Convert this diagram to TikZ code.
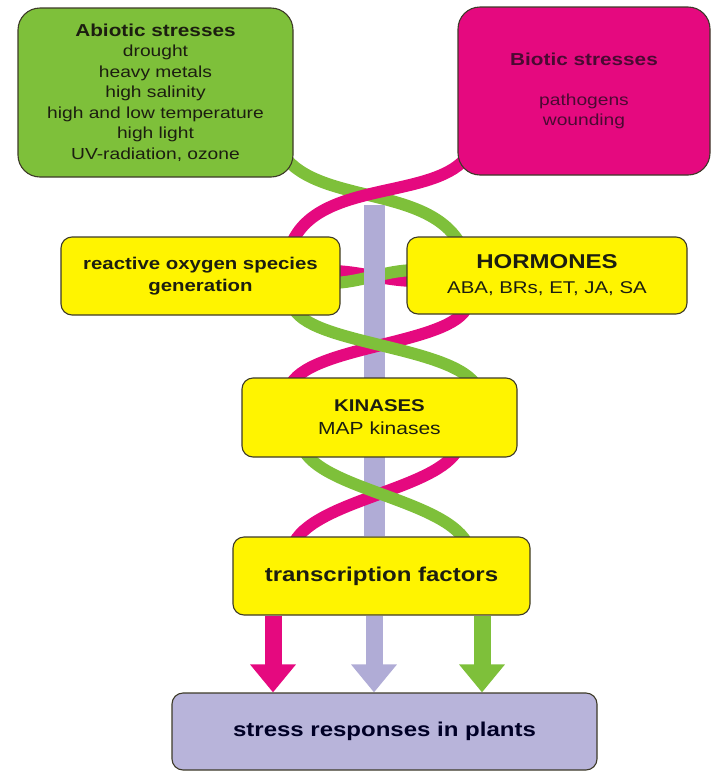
\documentclass[tikz,border=0pt]{standalone}
\usepackage{fontspec}
\setmainfont{Liberation Sans}[FakeStretch=1.2]
\usetikzlibrary{calc,arrows.meta}

\definecolor{abgreen}{HTML}{7EC03A}
\definecolor{biomag}{HTML}{E5097F}
\definecolor{boxyel}{HTML}{FFF400}
\definecolor{boxlav}{HTML}{B8B4DA}
\definecolor{barlav}{HTML}{B0ACD6}
\definecolor{rim}{HTML}{3D3A28}
\definecolor{ink}{HTML}{1C1E10}
\definecolor{bioink}{HTML}{4A0A32}

\pgfdeclarelayer{strands}
\pgfsetlayers{strands,main}

\tikzset{
  stressbox/.style={draw=rim, line width=1.1pt, rounded corners=11pt, align=center, inner sep=0pt, text=ink},
  greenstrand/.style={draw=abgreen, line width=12pt},
  magstrand/.style={draw=biomag, line width=12pt},
  midbar/.style={draw=barlav, line width=21pt},
  fatarrow/.style={line width=17pt, -{Triangle[width=44pt,length=28pt]}}
}

\begin{document}
\begin{tikzpicture}[x=1pt,y=-1pt]
     \useasboundingbox (0,0) rectangle (711,772);

     \node[stressbox, fill=abgreen, rounded corners=22pt, minimum width=275pt, minimum height=169pt,
       font=\fontsize{16}{20.5}\selectfont] (abiotic) at (155.5,92.5)
       {{\bfseries\fontsize{17.3}{20.5}\selectfont Abiotic stresses}\\ drought\\ heavy metals\\ high salinity\\
        high and low temperature\\ high light\\ UV-radiation, ozone};
     \node[stressbox, fill=biomag, text=bioink, rounded corners=22pt, minimum width=252pt, minimum height=168pt,
       font=\fontsize{16}{20.5}\selectfont] (biotic) at (584,91)
       {{\bfseries\fontsize{17.3}{20.5}\selectfont Biotic stresses}\\[19pt] pathogens\\ wounding};
     \node[stressbox, fill=boxyel, minimum width=279pt, minimum height=78pt,
       font=\bfseries\fontsize{17}{22}\selectfont] (ros) at (200.5,276)
       {reactive oxygen species\\ generation};
     \node[stressbox, fill=boxyel, minimum width=280pt, minimum height=77pt,
       font=\fontsize{17}{25}\selectfont] (hormones) at (547,275.5)
       {{\bfseries\fontsize{20}{25}\selectfont HORMONES}\\ ABA, BRs, ET, JA, SA};
     \node[stressbox, fill=boxyel, minimum width=275pt, minimum height=79pt,
       font=\fontsize{17.5}{23}\selectfont] (kinases) at (379.5,417.5)
       {{\bfseries\fontsize{17}{23}\selectfont KINASES}\\ MAP kinases};
     \node[stressbox, fill=boxyel, minimum width=297pt, minimum height=78pt,
       font=\bfseries\fontsize{20}{24}\selectfont] (tf) at (381.5,576)
       {transcription factors};
     \node[stressbox, fill=boxlav, text=black!85!blue, minimum width=425pt, minimum height=77pt,
       font=\bfseries\fontsize{20}{24}\selectfont] (stress) at (384.5,731.5)
       {stress responses in plants};

     \coordinate (bartop) at (374,205);

     \begin{pgfonlayer}{strands}
     \draw[greenstrand] ([shift={(-10,-22)}]abiotic.south east) .. controls (320,205) and (430,185) .. ([shift={(55,10)}]hormones.north west);
     \draw[magstrand] ([shift={(8,-17)}]biotic.south west) .. controls (430,200) and (315,180) .. ([shift={(-50,10)}]ros.north east);
     \draw[magstrand] ([shift={(-10,-5)}]ros.east) .. controls (360,271) and (385,281) .. ([shift={(10,5.5)}]hormones.west);
     \draw[greenstrand] ([shift={(-10,7)}]ros.east) .. controls (360,283) and (385,270) .. ([shift={(10,-5.5)}]hormones.west);
     \draw[midbar] (bartop) -- (bartop |- tf.north);
     \draw[magstrand] ([shift={(61,-9)}]hormones.south west) .. controls (455,345) and (305,345) .. ([shift={(48,10)}]kinases.north west);
     \draw[greenstrand] ([shift={(-48,-10)}]ros.south east) .. controls (305,345) and (455,345) .. ([shift={(-40,10)}]kinases.north east);
     \draw[magstrand] ([shift={(-59,-10)}]kinases.south east) .. controls (440,490) and (310,500) .. ([shift={(60,10)}]tf.north west);
     \draw[greenstrand] ([shift={(61,-10)}]kinases.south west) .. controls (320,490) and (450,500) .. ([shift={(-62,10)}]tf.north east);
     \draw[fatarrow, biomag] ([xshift=-108.5pt]tf.south) -- ([xshift=-108.5pt]tf.south |- stress.north);
     \draw[fatarrow, barlav] ([xshift=-7.5pt]tf.south) -- ([xshift=-7.5pt]tf.south |- stress.north);
     \draw[fatarrow, abgreen] ([xshift=100.5pt]tf.south) -- ([xshift=100.5pt]tf.south |- stress.north);
     \end{pgfonlayer}

  \end{tikzpicture}
\end{document}
